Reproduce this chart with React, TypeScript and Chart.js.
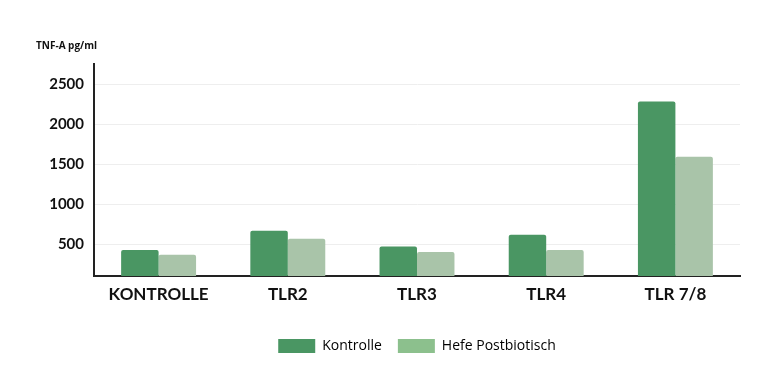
import React, { useEffect, useRef } from "react";
import { Chart, registerables } from "chart.js";

Chart.register(...registerables);

const categories = ["KONTROLLE", "TLR2", "TLR3", "TLR4", "TLR 7/8"];
const kontrolle = [425, 665, 470, 615, 2280];
const hefe = [365, 565, 400, 425, 1590];
const yTicks = [500, 1000, 1500, 2000, 2500];
const seriesNames = ["Kontrolle", "Hefe Postbiotisch"];
const yTitle = "TNF-A pg/ml";

const DARK = "#4a9663";
const LIGHT_BAR = "#a9c4a9";
const LIGHT_LEGEND = "#8cc08d";

const titlePlugin = {
  id: "yTitleTop",
  afterDraw(chart: any) {
    const ctx = chart.ctx;
    ctx.save();
    ctx.font = "bold 10px 'Open Sans'";
    ctx.fillStyle = "#111";
    ctx.textBaseline = "middle";
    ctx.textAlign = "left";
    ctx.fillText(yTitle, chart.chartArea.left - 58, 46);
    ctx.restore();
  },
};

export default function App() {
  const ref = useRef<HTMLCanvasElement>(null);
  useEffect(() => {
    if (!ref.current) return;
    const chart = new Chart(ref.current, {
      type: "bar",
      data: {
        labels: categories,
        datasets: [
          {
            label: seriesNames[0],
            data: kontrolle,
            backgroundColor: DARK,
            borderRadius: { topLeft: 2, topRight: 2 },
            borderSkipped: "bottom",
          },
          {
            label: seriesNames[1],
            data: hefe,
            backgroundColor: LIGHT_BAR,
            borderRadius: { topLeft: 2, topRight: 2 },
            borderSkipped: "bottom",
          },
        ],
      },
      plugins: [titlePlugin],
      options: {
        animation: false,
        responsive: false,
        maintainAspectRatio: false,
        layout: { padding: { top: 64, right: 40, left: 0, bottom: 27 } },
        datasets: { bar: { categoryPercentage: 0.58, barPercentage: 1 } },
        plugins: {
          tooltip: { enabled: false },
          legend: {
            position: "bottom",
            fullSize: false,
            labels: {
              boxWidth: 37,
              boxHeight: 14,
              padding: 16,
              color: "#222",
              font: { family: "'Open Sans'", size: 14 },
              generateLabels: () =>
                seriesNames.map((n, i) => ({
                  text: n,
                  fillStyle: i === 0 ? DARK : LIGHT_LEGEND,
                  strokeStyle: "transparent",
                  lineWidth: 0,
                  datasetIndex: i,
                  hidden: false,
                })),
            },
          },
        },
        scales: {
          x: {
            grid: { display: false, drawTicks: false },
            border: { display: true, color: "#222", width: 2 },
            ticks: {
              color: "#111",
              padding: 8,
              font: { family: "Lato", weight: "bold", size: 17 },
            },
            afterFit: (s: any) => {
              s.height = 47;
            },
          },
          y: {
            min: 100,
            max: 2750,
            afterBuildTicks: (s: any) => {
              s.ticks = yTicks.map((v) => ({ value: v }));
            },
            grid: { color: "#eeeeee", lineWidth: 1, drawTicks: false },
            border: { display: true, color: "#222", width: 2 },
            ticks: {
              color: "#111",
              padding: 10,
              font: { family: "Lato", weight: "bold", size: 15 },
              callback: (v: any) => String(v),
            },
            afterFit: (s: any) => {
              s.width = 94;
            },
          },
        },
      },
    });
    return () => chart.destroy();
  }, []);
  return (
    <div style={{ position: "fixed", left: 0, top: 0, width: 780, height: 390, background: "#fff" }}>
      <canvas ref={ref} width={780} height={390} />
    </div>
  );
}
